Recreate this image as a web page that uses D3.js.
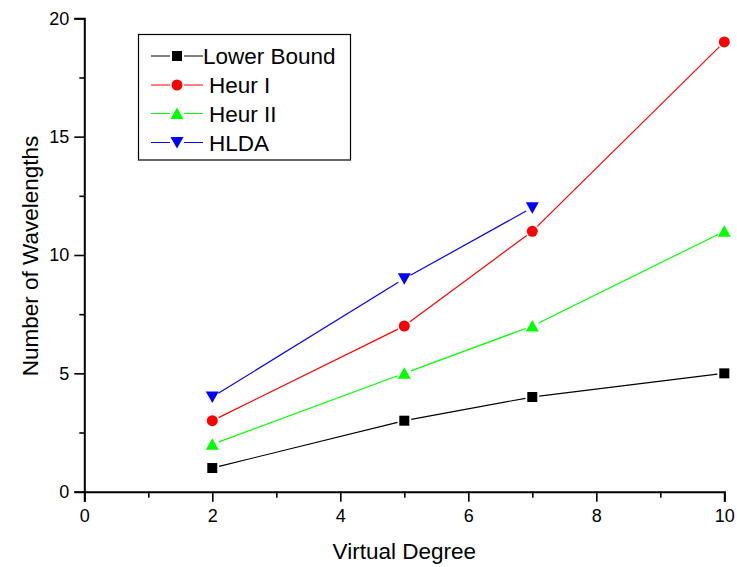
<!DOCTYPE html>
<html>
<head>
<meta charset="utf-8">
<script src="https://cdn.jsdelivr.net/npm/d3@7"></script>
<style>
  body { margin: 0; background: #fff; }
  svg { display: block; font-family: "Liberation Sans", Arial, sans-serif; }
</style>
</head>
<body>
<div id="chart"></div>
<script>
// values
let degrees = [2, 5, 7, 10];
let lowerBound = [1, 3, 4, 5];
let heur1 = [3, 7, 11, 19];
let heur2 = [2, 5, 7, 11];
let hlda = [4, 9, 12];

let xTicks = [0, 2, 4, 6, 8, 10];
let xMinor = [1, 3, 5, 7, 9];
let yTicks = [0, 5, 10, 15, 20];
let yMinor = [2.5, 7.5, 12.5, 17.5];

let series = [
    {name: "Lower Bound", values: lowerBound, color: "#000000", symbol: "square"},
    {name: "Heur I", values: heur1, color: "#ff0000", symbol: "circle"},
    {name: "Heur II", values: heur2, color: "#00ff00", symbol: "triangle"},
    {name: "HLDA", values: hlda, color: "#0000ff", symbol: "down"},
];

let width = 737,
    height = 567,
    margin = {top: 18.3, right: 12.7, bottom: 75.3, left: 84.3};

let x = d3.scaleLinear().domain([0, 10]).range([margin.left, width - margin.right]);
let y = d3.scaleLinear().domain([0, 20]).range([height - margin.bottom, margin.top]);

let svg = d3.select("#chart")
    .append("svg")
    .attr("width", width)
    .attr("height", height);

// axes
let xAxis = svg.append("g")
    .attr("transform", `translate(0,${y(0)})`)
    .call(d3.axisBottom(x).tickValues(xTicks).tickSize(10).tickPadding(8).tickFormat(d3.format("d")));
svg.append("g")
    .attr("transform", `translate(0,${y(0)})`)
    .call(d3.axisBottom(x).tickValues(xMinor).tickSize(6).tickFormat(""))
    .call(g => g.select(".domain").remove());

let yAxis = svg.append("g")
    .attr("transform", `translate(${x(0)},0)`)
    .call(d3.axisLeft(y).tickValues(yTicks).tickSize(10).tickPadding(5).tickFormat(d3.format("d")));
svg.append("g")
    .attr("transform", `translate(${x(0)},0)`)
    .call(d3.axisLeft(y).tickValues(yMinor).tickSize(5).tickFormat(""))
    .call(g => g.select(".domain").remove());

svg.selectAll(".domain").attr("stroke-width", 2);
svg.selectAll(".tick line").attr("stroke-width", 1.6);
svg.selectAll(".tick text").attr("font-size", 18).attr("fill", "#000")
    .attr("font-family", "Liberation Sans, Arial, sans-serif");

svg.append("text")
    .attr("x", (x(0) + x(10)) / 2)
    .attr("y", 558.5)
    .attr("text-anchor", "middle")
    .attr("font-size", 22.5)
    .text("Virtual Degree");

svg.append("text")
    .attr("transform", `translate(38,256) rotate(-90)`)
    .attr("text-anchor", "middle")
    .attr("font-size", 22.5)
    .text("Number of Wavelengths");

// marker shapes
let symbolPath = function(kind) {
    if (kind == "square") return d3.symbol(d3.symbolSquare, 100)();
    if (kind == "circle") return d3.symbol(d3.symbolCircle, 95)();
    if (kind == "triangle") return "M0,-6L6.5,5.5L-6.5,5.5Z";
    return "M0,6L6.5,-5.5L-6.5,-5.5Z";
};

let gap = 7;

series.forEach(s => {
    let pts = s.values.map((v, i) => [x(degrees[i]), y(v)]);
    let g = svg.append("g");
    // segments stop short of the markers
    for (let i = 0; i < pts.length - 1; i++) {
        let [x1, y1] = pts[i], [x2, y2] = pts[i + 1];
        let len = Math.hypot(x2 - x1, y2 - y1);
        let ux = (x2 - x1) / len, uy = (y2 - y1) / len;
        g.append("line")
            .attr("x1", x1 + ux * gap).attr("y1", y1 + uy * gap)
            .attr("x2", x2 - ux * gap).attr("y2", y2 - uy * gap)
            .attr("stroke", s.color)
            .attr("stroke-width", 1.2);
    }
    g.selectAll("path")
        .data(pts)
        .join("path")
        .attr("transform", d => `translate(${d[0]},${d[1]})`)
        .attr("d", symbolPath(s.symbol))
        .attr("fill", s.color);
});

// legend
let legend = svg.append("g");
legend.append("rect")
    .attr("x", 138.5).attr("y", 34.5)
    .attr("width", 212).attr("height", 125.5)
    .attr("fill", "#fff")
    .attr("stroke", "#000")
    .attr("stroke-width", 1.2);

let rowY = [56, 85, 113.5, 142.5];
series.forEach((s, i) => {
    let row = legend.append("g").attr("transform", `translate(0,${rowY[i]})`);
    row.append("line").attr("x1", 151).attr("x2", 170).attr("stroke", s.color).attr("stroke-width", 1);
    row.append("line").attr("x1", 184).attr("x2", 203).attr("stroke", s.color).attr("stroke-width", 1);
    row.append("path")
        .attr("transform", "translate(177,0)")
        .attr("d", symbolPath(s.symbol))
        .attr("fill", s.color);
    row.append("text")
        .attr("x", i == 0 ? 203 : 209)
        .attr("dy", "0.36em")
        .attr("font-size", 22.5)
        .text(s.name);
});
</script>
</body>
</html>
